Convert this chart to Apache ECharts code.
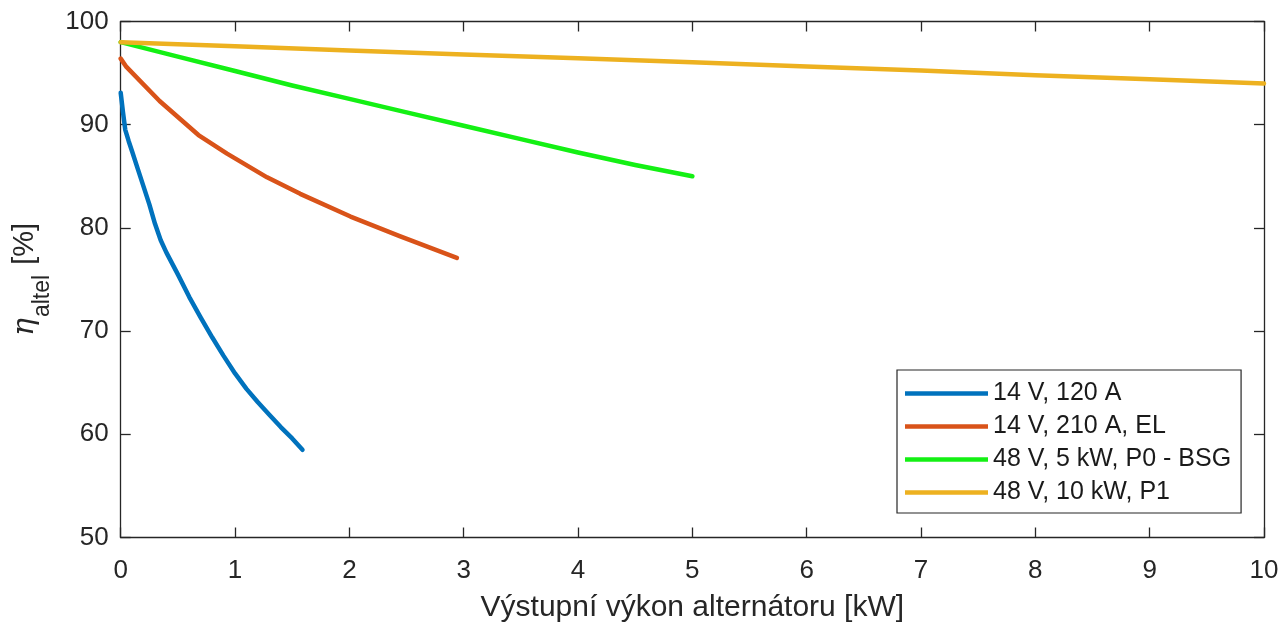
<!DOCTYPE html>
<html>
<head>
<meta charset="utf-8">
<title>Účinnost alternátoru</title>
<script src="https://cdn.jsdelivr.net/npm/echarts@6/dist/echarts.min.js"></script>
<style>
  html, body { margin: 0; padding: 0; background: #fff; }
  #chart { width: 1283px; height: 623px; }
</style>
</head>
<body>
<div id="chart"></div>
<script>
// Output power [kW] vs. efficiency [%] for each alternator type
const seriesNames = ['14 V, 120 A', '14 V, 210 A, EL', '48 V, 5 kW, P0 - BSG', '48 V, 10 kW, P1'];
const seriesColors = ['#0072BD', '#D95319', '#14F014', '#EDB120'];

const alt14v120aP   = [0, 0.02, 0.04, 0.07, 0.1, 0.15, 0.2, 0.25, 0.3, 0.35, 0.4, 0.5, 0.6, 0.7, 0.8, 0.9, 1.0, 1.1, 1.2, 1.3, 1.4, 1.5, 1.59];
const alt14v120aEta = [93.1, 91.2, 89.5, 88.4, 87.4, 85.7, 84.0, 82.3, 80.4, 78.8, 77.6, 75.5, 73.3, 71.3, 69.4, 67.6, 65.9, 64.4, 63.1, 61.9, 60.7, 59.6, 58.5];

const alt14v210aP   = [0, 0.05, 0.34, 0.68, 0.93, 1.28, 1.57, 2.01, 2.44, 2.94];
const alt14v210aEta = [96.4, 95.6, 92.3, 89.0, 87.2, 84.9, 83.3, 81.1, 79.2, 77.1];

const bsg48v5kwP   = [0, 0.5, 1, 1.5, 2, 2.5, 3, 3.5, 4, 4.5, 5];
const bsg48v5kwEta = [98.0, 96.6, 95.2, 93.8, 92.5, 91.2, 89.9, 88.6, 87.3, 86.1, 85.0];

const p148v10kwP   = [0, 1, 2, 3, 4, 5, 6, 7, 8, 9, 10];
const p148v10kwEta = [98.0, 97.6, 97.2, 96.8, 96.45, 96.05, 95.65, 95.25, 94.8, 94.4, 94.0];

const xTicks = { min: 0, max: 10, interval: 1 };
const yTicks = { min: 50, max: 100, interval: 10 };

const pairs = (xs, ys) => xs.map((x, i) => [x, ys[i]]);
const seriesData = [
  pairs(alt14v120aP, alt14v120aEta),
  pairs(alt14v210aP, alt14v210aEta),
  pairs(bsg48v5kwP, bsg48v5kwEta),
  pairs(p148v10kwP, p148v10kwEta)
];

const FONT = 'Liberation Sans, Arial, Helvetica, sans-serif';
const AXIS_COLOR = '#262626';

const axisLine = { show: true, onZero: false, lineStyle: { color: AXIS_COLOR, width: 1.3 } };
const axisTick = { show: true, inside: true, length: 10, lineStyle: { color: AXIS_COLOR, width: 1.3 } };

const chart = echarts.init(document.getElementById('chart'), null, { renderer: 'canvas' });

chart.setOption({
  backgroundColor: '#ffffff',
  animation: false,
  grid: { left: 120.7, right: 19, top: 21.5, bottom: 85.5, containLabel: false, outerBoundsMode: 'none' },
  legend: {
    orient: 'vertical',
    left: 897,
    top: 370,
    padding: [11, 10, 8, 8],
    itemGap: 8,
    itemWidth: 83,
    itemHeight: 4.5,
    icon: 'rect',
    backgroundColor: '#ffffff',
    borderColor: AXIS_COLOR,
    borderWidth: 1.2,
    borderRadius: 0,
    textStyle: { fontFamily: FONT, fontSize: 25, lineHeight: 25, color: '#1a1a1a' },
    data: seriesNames
  },
  xAxis: [
    {
      type: 'value', position: 'bottom',
      min: xTicks.min, max: xTicks.max, interval: xTicks.interval,
      axisLine, axisTick,
      splitLine: { show: false },
      axisLabel: { fontFamily: FONT, fontSize: 26, color: AXIS_COLOR, margin: 20 },
      name: 'Výstupní výkon alternátoru [kW]',
      nameLocation: 'middle',
      nameGap: 55,
      nameTextStyle: { fontFamily: FONT, fontSize: 30, color: AXIS_COLOR }
    },
    {
      type: 'value', position: 'top',
      min: xTicks.min, max: xTicks.max, interval: xTicks.interval,
      axisLine, axisTick,
      splitLine: { show: false },
      axisLabel: { show: false }
    }
  ],
  yAxis: [
    {
      type: 'value', position: 'left',
      min: yTicks.min, max: yTicks.max, interval: yTicks.interval,
      axisLine, axisTick,
      splitLine: { show: false },
      axisLabel: { fontFamily: FONT, fontSize: 26, color: AXIS_COLOR, margin: 12 },
      name: '{eta|η}{sub|altel}{unit| [%]}',
      nameLocation: 'middle',
      nameRotate: 90,
      nameGap: 72,
      nameTextStyle: {
        color: AXIS_COLOR,
        rich: {
          eta: { fontFamily: 'DejaVu Serif, serif', fontStyle: 'italic', fontSize: 30, lineHeight: 30, verticalAlign: 'top', color: AXIS_COLOR },
          sub: { fontFamily: FONT, fontSize: 23, lineHeight: 23, padding: [21, 2, 0, 1], verticalAlign: 'top', color: AXIS_COLOR },
          unit: { fontFamily: FONT, fontSize: 29, lineHeight: 30, verticalAlign: 'top', color: AXIS_COLOR }
        }
      }
    },
    {
      type: 'value', position: 'right',
      min: yTicks.min, max: yTicks.max, interval: yTicks.interval,
      axisLine, axisTick,
      splitLine: { show: false },
      axisLabel: { show: false }
    }
  ],
  series: seriesNames.map((name, i) => ({
    name,
    type: 'line',
    xAxisIndex: 0,
    yAxisIndex: 0,
    data: seriesData[i],
    showSymbol: false,
    symbol: 'none',
    smooth: false,
    color: seriesColors[i],
    lineStyle: { color: seriesColors[i], width: 4.5, cap: 'round', join: 'round' },
    emphasis: { disabled: true }
  }))
});
</script>
</body>
</html>
